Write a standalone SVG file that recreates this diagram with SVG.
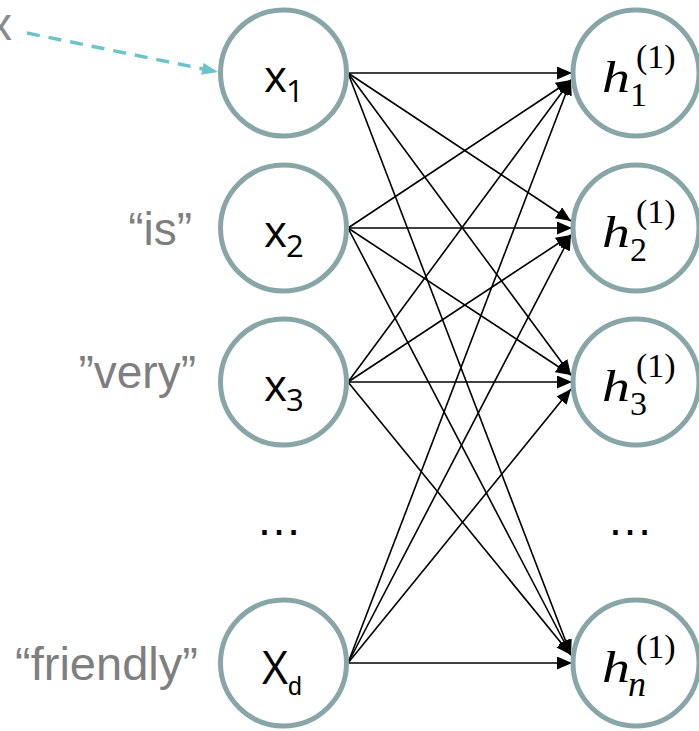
<svg xmlns="http://www.w3.org/2000/svg" width="699" height="731" viewBox="0 0 699 731">
<defs>
<marker id="ah" markerUnits="userSpaceOnUse" markerWidth="16" markerHeight="13" refX="15" refY="6.5" orient="auto">
<path d="M0,0 L15,6.5 L0,13 z" fill="#000"/>
</marker>
<marker id="ahT" markerUnits="userSpaceOnUse" markerWidth="17" markerHeight="12" refX="16" refY="6" orient="auto">
<path d="M0,0 L16,6 L0,12 z" fill="#6CC4CA"/>
</marker>
<style>
.node{fill:#fff;stroke:#89A6A7;stroke-width:5}
.edge{stroke:#000;stroke-width:1.6;fill:none;marker-end:url(#ah)}
.lbl{font-family:"Liberation Sans",Arial,sans-serif;font-size:46px;fill:#7f7f7f;text-anchor:end}
.xm{font-family:"Open Sans","Liberation Sans",sans-serif;font-size:44px;fill:#000}
.xs{font-family:"Open Sans","Liberation Sans",sans-serif;font-size:31px;fill:#000}
.hm{font-family:"Liberation Serif","DejaVu Serif",serif;font-style:italic;font-size:44px;fill:#000}
.hs{font-family:"Liberation Serif","DejaVu Serif",serif;font-size:34px;fill:#000}
.hsi{font-family:"Liberation Serif","DejaVu Serif",serif;font-style:italic;font-size:36px;fill:#000}
.dots{font-family:"Liberation Sans",Arial,sans-serif;font-size:46px;fill:#000;text-anchor:middle}
</style>
</defs>
<text x="-11" y="40" style="font-family:'Liberation Sans',Arial,sans-serif;font-size:46px;fill:#8a8a8a">x</text>
<g id="connectors">
<line x1="27" y1="33" x2="218" y2="72" stroke="#6CC4CA" stroke-width="3.5" stroke-dasharray="13,9" marker-end="url(#ahT)"/>
<line class="edge" x1="348" y1="73" x2="572" y2="73"/>
<line class="edge" x1="348" y1="73" x2="571" y2="221"/>
<line class="edge" x1="348" y1="73" x2="571" y2="375"/>
<line class="edge" x1="348" y1="73" x2="571" y2="655"/>
<line class="edge" x1="348" y1="228" x2="571" y2="80"/>
<line class="edge" x1="348" y1="228" x2="572" y2="228"/>
<line class="edge" x1="348" y1="228" x2="571" y2="375"/>
<line class="edge" x1="348" y1="228" x2="571" y2="655"/>
<line class="edge" x1="348" y1="382" x2="571" y2="80"/>
<line class="edge" x1="348" y1="382" x2="571" y2="235"/>
<line class="edge" x1="348" y1="382" x2="572" y2="382"/>
<line class="edge" x1="348" y1="382" x2="571" y2="655"/>
<line class="edge" x1="348" y1="663" x2="571" y2="80"/>
<line class="edge" x1="348" y1="663" x2="571" y2="235"/>
<line class="edge" x1="348" y1="663" x2="571" y2="389"/>
<line class="edge" x1="348" y1="663" x2="572" y2="663"/>
</g>
<g id="x1">
<circle class="node" cx="283.5" cy="73" r="63"/>
<text class="xm" x="264" y="92">x</text><text class="xs" x="286" y="102">1</text>
</g>
<g id="x2">
<text class="lbl" x="192" y="245">“is”</text>
<circle class="node" cx="283.5" cy="228" r="63"/>
<text class="xm" x="264" y="247">x</text><text class="xs" x="286" y="257">2</text>
</g>
<g id="x3">
<text class="lbl" x="196" y="388">”very”</text>
<circle class="node" cx="283.5" cy="382" r="63"/>
<text class="xm" x="264" y="401">x</text><text class="xs" x="286" y="411">3</text>
</g>
<g id="xdots"><text class="dots" x="279" y="535">…</text></g>
<g id="xd">
<text class="lbl" x="198" y="680" textLength="183" lengthAdjust="spacingAndGlyphs">“friendly”</text>
<circle class="node" cx="283.5" cy="663" r="63"/>
<text style="font-family:'Open Sans','Liberation Sans',sans-serif;font-size:45px;fill:#000" x="262" y="684">X</text>
<text style="font-family:'Liberation Sans',Arial,sans-serif;font-size:25px;fill:#000" x="288" y="695">d</text>
</g>
<g id="h1">
<circle class="node" cx="636" cy="73" r="63"/>
<text class="hm" x="602" y="92" textLength="28" lengthAdjust="spacingAndGlyphs">h</text><text class="hs" x="630" y="106">1</text><text class="hs" x="636" y="68">(1)</text>
</g>
<g id="h2">
<circle class="node" cx="636" cy="228" r="63"/>
<text class="hm" x="602" y="247" textLength="28" lengthAdjust="spacingAndGlyphs">h</text><text class="hs" x="630" y="261">2</text><text class="hs" x="636" y="223">(1)</text>
</g>
<g id="h3">
<circle class="node" cx="636" cy="382" r="63"/>
<text class="hm" x="602" y="401" textLength="28" lengthAdjust="spacingAndGlyphs">h</text><text class="hs" x="630" y="415">3</text><text class="hs" x="636" y="377">(1)</text>
</g>
<g id="hdots"><text class="dots" x="630" y="535">…</text></g>
<g id="hn">
<circle class="node" cx="636" cy="663" r="63"/>
<text class="hm" x="602" y="682" textLength="28" lengthAdjust="spacingAndGlyphs">h</text><text class="hsi" x="628" y="696">n</text><text class="hs" x="636" y="658">(1)</text>
</g>
</svg>
